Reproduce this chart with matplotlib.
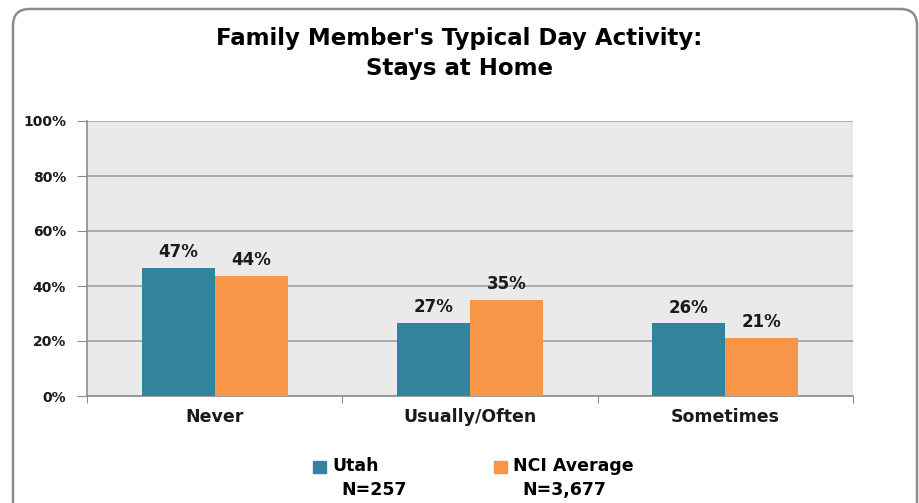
import matplotlib.pyplot as plt
from matplotlib.patches import FancyBboxPatch, Rectangle
import numpy as np

categories = ['Never', 'Usually/Often', 'Sometimes']
utah = [46.6, 26.6, 26.4]
nci = [43.6, 35.0, 21.2]
utah_labels = ['47%', '27%', '26%']
nci_labels = ['44%', '35%', '21%']
series_names = ['Utah', 'NCI Average']
series_n = ['N=257', 'N=3,677']
yticks = [0, 20, 40, 60, 80, 100]

teal = '#31849B'
orange = '#F79646'
font = 'DejaVu Sans'

fig = plt.figure(figsize=(9.19, 5.03), dpi=100)

# rounded frame around the whole chart
frame = FancyBboxPatch((13 / 919, -0.05), 904 / 919, 1 + 0.05 - 9 / 503,
                       boxstyle='round,pad=0,rounding_size=0.018',
                       transform=fig.transFigure, fill=False,
                       edgecolor='#8C8C8C', linewidth=1.8,
                       mutation_aspect=919 / 503)
fig.patches.append(frame)

ax = fig.add_axes([87 / 919, 1 - 396 / 503, 766 / 919, 275 / 503])
ax.set_facecolor('#EAEAEA')

x = np.arange(len(categories))
w = 0.286
ax.bar(x - w / 2, utah, w, color=teal, zorder=3)
ax.bar(x + w / 2, nci, w, color=orange, zorder=3)

for i in range(len(categories)):
    ax.text(x[i] - w / 2, utah[i] + 2.5, utah_labels[i], ha='center', va='bottom',
            fontsize=12, fontweight='bold', family=font, color='#1a1a1a')
    ax.text(x[i] + w / 2, nci[i] + 2.5, nci_labels[i], ha='center', va='bottom',
            fontsize=12, fontweight='bold', family=font, color='#1a1a1a')

ax.set_xlim(-0.5, len(categories) - 0.5)
ax.set_ylim(0, 100)
ax.set_yticks(yticks)
ax.set_yticklabels([f'{v}%' for v in yticks], fontsize=10, fontweight='bold',
                   family=font, color='#1a1a1a')
ax.yaxis.grid(True, color='#A0A0A0', linewidth=1.2, zorder=0)
ax.set_axisbelow(True)

ax.set_xticks(np.arange(-0.5, len(categories), 1.0))
ax.set_xticklabels([])
ax.set_xticks(x, minor=True)
ax.set_xticklabels(categories, minor=True, fontsize=12.5, fontweight='bold',
                   family=font, color='#1a1a1a')
ax.tick_params(axis='x', which='major', length=5, color='#8C8C8C')
ax.tick_params(axis='x', which='minor', length=0, pad=9)
ax.tick_params(axis='y', length=7, color='#8C8C8C', pad=8)

for s in ['top', 'right']:
    ax.spines[s].set_visible(False)
for s in ['left', 'bottom']:
    ax.spines[s].set_color('#8C8C8C')
    ax.spines[s].set_linewidth(1.2)

fig.text(0.5, 1 - 38 / 503, "Family Member's Typical Day Activity:", ha='center',
         va='center', fontsize=16.5, fontweight='bold', family=font)
fig.text(0.5, 1 - 69 / 503, 'Stays at Home', ha='center', va='center',
         fontsize=16.5, fontweight='bold', family=font)

# legend
leg_x = [313 / 919, 494 / 919]
leg_colors = [teal, orange]
for i in range(2):
    fig.patches.append(Rectangle((leg_x[i], 1 - 473 / 503), 13 / 919, 12 / 503,
                                 transform=fig.transFigure, color=leg_colors[i]))
    fig.text(leg_x[i] + 19 / 919, 1 - 466 / 503, series_names[i], ha='left',
             va='center', fontsize=12.5, fontweight='bold', family=font)
    fig.text(leg_x[i] + 28 / 919, 1 - 490 / 503, series_n[i], ha='left',
             va='center', fontsize=12.5, fontweight='bold', family=font)

fig.savefig('out.png', dpi=100)
